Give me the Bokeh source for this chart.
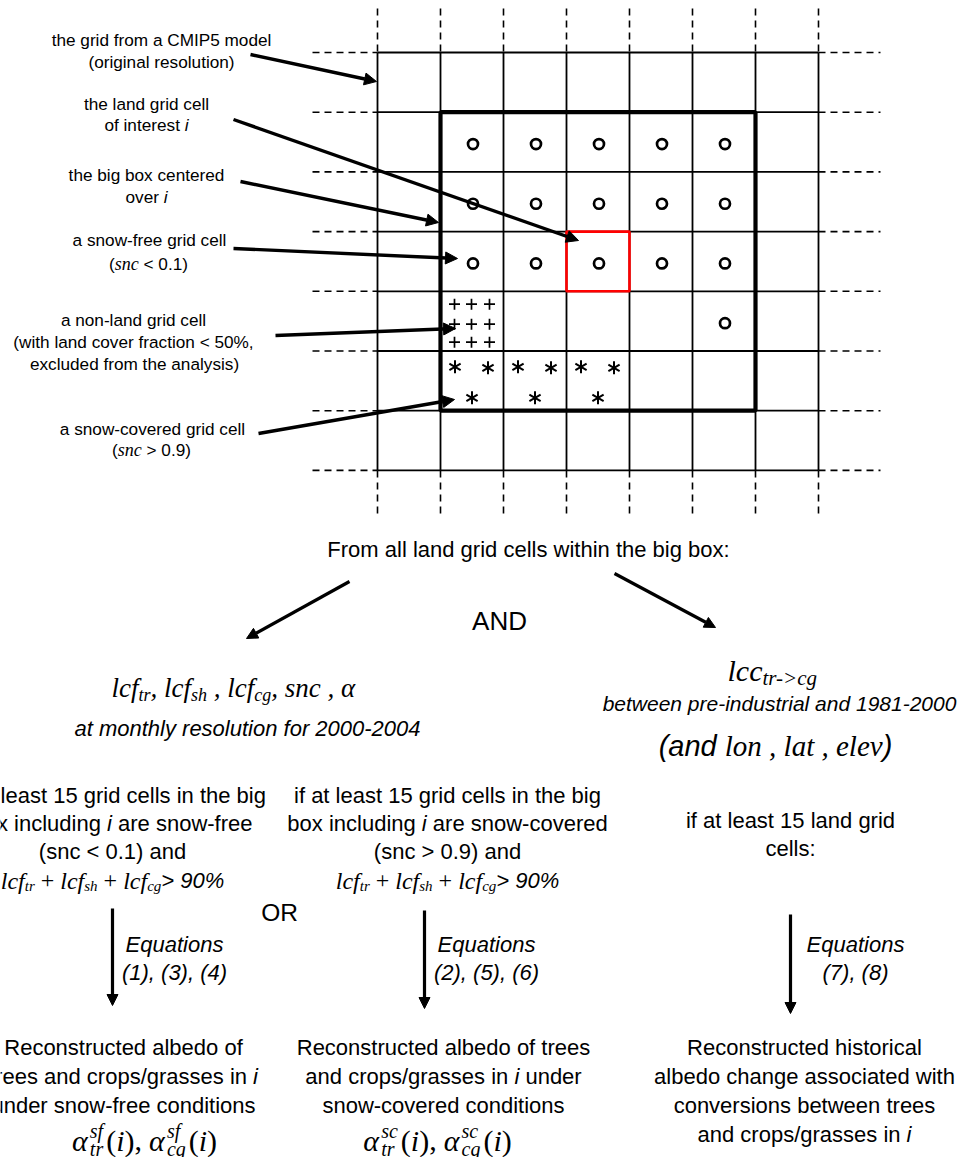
from bokeh.plotting import figure
from bokeh.models import ColumnDataSource, Arrow, NormalHead, Range1d
from bokeh.core.properties import value
from bokeh.embed import file_html
from bokeh.resources import INLINE
import math

# ---------------- data: the grid and its cell classes ----------------
N_COLS = 7
N_ROWS = 7
BIG_BOX = (1, 1, 6, 6)          # first col, first row, last edge col, last edge row
CELL_I = (3, 3)                  # col, row of the land grid cell of interest
SNOW_FREE_COLS = [1, 2, 3, 4, 5, 1, 2, 3, 4, 5, 1, 2, 3, 4, 5, 5]
SNOW_FREE_ROWS = [1, 1, 1, 1, 1, 2, 2, 2, 2, 2, 3, 3, 3, 3, 3, 4]
SNOW_COVERED_COLS = [1, 2, 3]
SNOW_COVERED_ROWS = [5, 5, 5]
NON_LAND_COLS = [1]
NON_LAND_ROWS = [4]

# ---------------- texts ----------------
LBL_GRID = ["the grid from a CMIP5 model", "(original resolution)"]
LBL_CELL = ["the land grid cell", "of interest "]
LBL_BOX = ["the big box centered", "over "]
LBL_SF = ["a snow-free grid cell", " < 0.1)"]
LBL_NL = ["a non-land grid cell", "(with land cover fraction < 50%,", "excluded from the analysis)"]
LBL_SC = ["a snow-covered grid cell", " > 0.9)"]
TXT_FROM = "From all land grid cells within the big box:"
TXT_AND = "AND"
TXT_OR = "OR"
TXT_MONTHLY = "at monthly resolution for 2000-2004"
TXT_BETWEEN = "between pre-industrial and 1981-2000"
COND_SF = ["if at least 15 grid cells in the big", "box including ", " are snow-free", "(snc < 0.1) and"]
COND_SC = ["if at least 15 grid cells in the big", "box including ", " are snow-covered", "(snc > 0.9) and"]
COND_LCC = ["if at least 15 land grid", "cells:"]
EQ_SF = ["Equations", "(1), (3), (4)"]
EQ_SC = ["Equations", "(2), (5), (6)"]
EQ_LCC = ["Equations", "(7), (8)"]
RES_SF = ["Reconstructed albedo of", "trees and crops/grasses in ", "under snow-free conditions"]
RES_SC = ["Reconstructed albedo of trees", "and crops/grasses in ", " under", "snow-covered conditions"]
RES_LCC = ["Reconstructed historical", "albedo change associated with",
           "conversions between trees", "and crops/grasses in "]

# ---------------- layout ----------------
X0, CW = 377, 63.0
Y0, CH = 52, 59.7


def gx(i):
    return X0 + i * CW


def gy(j):
    return Y0 + j * CH


def cx(i):
    return X0 + (i + 0.5) * CW


def cy(j):
    return Y0 + (j + 0.5) * CH


p = figure(width=965, height=1157, x_range=Range1d(0, 965), y_range=Range1d(1157, 0),
           output_backend="svg", toolbar_location=None, min_border=0,
           x_axis_type=None, y_axis_type=None)
p.grid.visible = False
p.outline_line_color = None
p.background_fill_color = "white"
p.border_fill_color = "white"

# solid grid
sx0, sy0, sx1, sy1 = [], [], [], []
for i in range(N_COLS + 1):
    sx0.append(gx(i)); sy0.append(gy(0)); sx1.append(gx(i)); sy1.append(gy(N_ROWS))
for j in range(N_ROWS + 1):
    sx0.append(gx(0)); sy0.append(gy(j)); sx1.append(gx(N_COLS)); sy1.append(gy(j))
p.segment(sx0, sy0, sx1, sy1, line_color="black", line_width=1.8)

# dashed continuation
dx0, dy0, dx1, dy1 = [], [], [], []
for i in range(N_COLS + 1):
    dx0 += [gx(i), gx(i)]; dy0 += [8, gy(N_ROWS)]
    dx1 += [gx(i), gx(i)]; dy1 += [gy(0), 515]
for j in range(N_ROWS + 1):
    dx0 += [312, gx(N_COLS)]; dy0 += [gy(j), gy(j)]
    dx1 += [gx(0), 880]; dy1 += [gy(j), gy(j)]
p.segment(dx0, dy0, dx1, dy1, line_color="black", line_width=1.6, line_dash="7 5")

# big box and the cell of interest
c0, r0, c1, r1 = BIG_BOX
p.quad(left=[gx(c0)], right=[gx(c1)], top=[gy(r0)], bottom=[gy(r1)],
       fill_color=None, line_color="black", line_width=4.2)
ci, ri = CELL_I
p.quad(left=[gx(ci)], right=[gx(ci + 1)], top=[gy(ri)], bottom=[gy(ri + 1)],
       fill_color=None, line_color="#ff0000", line_width=2.6)

# snow-free circles
p.scatter([cx(c) + 1 for c in SNOW_FREE_COLS], [cy(r) + 2 for r in SNOW_FREE_ROWS],
          marker="circle", size=10, line_width=2.7, line_color="black", fill_color="white")

# non-land pluses
plx, ply = [], []
for c, r in zip(NON_LAND_COLS, NON_LAND_ROWS):
    for oy in (-17, 3, 21):
        for ox in (-17.5, -0.5, 17.5):
            plx.append(cx(c) + ox); ply.append(cy(r) + oy)
p.scatter(plx, ply, marker="cross", size=11, line_width=1.7, line_color="black")

# snow-covered asterisks (6 arms)
stx, sty = [], []
for c, r in zip(SNOW_COVERED_COLS, SNOW_COVERED_ROWS):
    for ox, oy in ((-17, -14), (16, -13), (0, 17)):
        stx.append(cx(c) + ox); sty.append(cy(r) + oy)
for ang in (90, 30, -30):
    p.scatter(stx, sty, marker="dash", size=13, line_width=2.0, line_color="black",
              angle=math.radians(ang))

# arrows
arr_top = ColumnDataSource(dict(
    x0=[250, 233, 240, 233, 275, 258], y0=[54, 119, 181, 248, 335, 433],
    x1=[376, 578, 438, 457, 455, 454], y1=[81, 240, 222, 258, 328, 399]))
p.add_layout(Arrow(end=NormalHead(size=12, fill_color="black", line_color="black", line_width=1),
                   source=arr_top, x_start="x0", y_start="y0", x_end="x1", y_end="y1",
                   line_width=3.4, line_color="black"))
arr_low = ColumnDataSource(dict(
    x0=[349, 614, 112, 424, 790], y0=[581, 573, 908, 910, 914],
    x1=[246, 715, 112, 424, 790], y1=[638, 627, 1005, 1008, 1013]))
p.add_layout(Arrow(end=NormalHead(size=11, fill_color="black", line_color="black", line_width=1),
                   source=arr_low, x_start="x0", y_start="y0", x_end="x1", y_end="y1",
                   line_width=3.2, line_color="black"))

# ---------------- text machinery ----------------
_LC = "abcdefghijklmnopqrstuvwxyz"
_UC = "ABCDEFGHIJKLMNOPQRSTUVWXYZ"
ARIAL = dict(zip(_LC, [.556, .556, .5, .556, .556, .278, .556, .556, .222, .222, .5, .222, .833,
                       .556, .556, .556, .556, .333, .5, .278, .556, .5, .722, .5, .5, .5]))
ARIAL.update(zip(_UC, [.667, .667, .722, .722, .667, .611, .778, .722, .278, .5, .667, .556, .833,
                       .722, .778, .667, .778, .722, .667, .611, .722, .667, .944, .667, .667, .611]))
ARIAL.update(zip(" ()+,-./:<>%=", [.278, .333, .333, .584, .278, .333, .278, .278, .278, .584, .584, .889, .584]))
ARIAL.update({d: .556 for d in "0123456789"})
TIMESI = dict(zip(_LC, [.5, .5, .444, .5, .444, .278, .5, .5, .278, .278, .444, .278, .722,
                        .5, .5, .5, .5, .389, .389, .278, .5, .444, .667, .444, .444, .389]))
TIMESI.update(zip(" ()+,-.<>%", [.25, .333, .333, .675, .25, .333, .25, .675, .675, .833]))
TIMESI.update({d: .5 for d in "0123456789"})
TIMESI["α"] = .53
TIMESR = dict(TIMESI)
TIMESR.update({"+": .564, "(": .333, ")": .333, ",": .25, " ": .25})

TABLES = {"sans": ARIAL, "sansi": ARIAL, "serif": TIMESR, "serifi": TIMESI}
FONTS = {"sans": ("Liberation Sans", "normal"), "sansi": ("Liberation Sans", "italic"),
         "serif": ("Liberation Serif", "normal"), "serifi": ("Liberation Serif", "italic")}
groups = {}


def put(x, y, s, fam, size, align="left"):
    g = groups.setdefault((fam, size, align), {"x": [], "y": [], "text": []})
    g["x"].append(x); g["y"].append(y); g["text"].append(s)


def tw(s, fam, size):
    t = TABLES[fam]
    return sum(t.get(ch, 0.55) for ch in s) * size


def run_w(r):
    if r[0] == "#gap":
        return r[1]
    if r[0] == "#stack":
        _, sup, sub, fam, size, _a, _b = r
        return max(tw(sup, fam, size), tw(sub, fam, size))
    return tw(r[0], r[1], r[2])


def put_run(x, y, t, fam, size):
    # SVG drops leading/trailing blanks: shift by the leading blank width instead
    lead = len(t) - len(t.lstrip(" "))
    if t.strip():
        put(x + tw(" " * lead, fam, size), y, t.strip(), fam, size)


def line(runs, x_c, base):
    if len(runs) == 1:
        t, fam, size, dy = runs[0]
        put(x_c, base + dy, t.strip(), fam, size, "center")
        return
    total = sum(run_w(r) for r in runs)
    x = x_c - total / 2
    for r in runs:
        if r[0] == "#gap":
            pass
        elif r[0] == "#stack":
            _, sup, sub, fam, size, dsup, dsub = r
            put(x, base + dsup, sup, fam, size)
            put(x, base + dsub, sub, fam, size)
        else:
            put_run(x, base + r[3], r[0], r[1], r[2])
        x += run_w(r)


S1 = 17.2   # top-left labels
S2 = 22     # lower texts

# top-left labels
line([(LBL_GRID[0], "sans", S1, 0)], 161, 39)
line([(LBL_GRID[1], "sans", S1, 0)], 161, 61)
line([(LBL_CELL[0], "sans", S1, 0)], 146, 103)
line([(LBL_CELL[1], "sans", S1, 0), ("i", "sansi", S1, 0)], 146, 124)
line([(LBL_BOX[0], "sans", S1, 0)], 146, 174)
line([(LBL_BOX[1], "sans", S1, 0), ("i", "sansi", S1, 0)], 146, 196)
line([(LBL_SF[0], "sans", S1, 0)], 149, 239)
line([("(", "sans", S1, 0), ("snc", "serifi", 18, 0), (LBL_SF[1], "sans", S1, 0)], 148, 263)
line([(LBL_NL[0], "sans", S1, 0)], 133, 319)
line([(LBL_NL[1], "sans", S1, 0)], 133, 341)
line([(LBL_NL[2], "sans", S1, 0)], 134, 363)
line([(LBL_SC[0], "sans", S1, 0)], 152, 428)
line([("(", "sans", S1, 0), ("snc", "serifi", 18, 0), (LBL_SC[1], "sans", S1, 0)], 151, 449)

# middle
line([(TXT_FROM, "sans", S2, 0)], 528, 549)
line([(TXT_AND, "sans", 26, 0)], 499, 620)
line([(TXT_OR, "sans", 24.5, 0)], 279, 912)

M, s, d = 27, 18, 7
line([("lcf", "serifi", M, 0), ("tr", "serifi", s, d), (", ", "serifi", M, 0),
      ("lcf", "serifi", M, 0), ("sh", "serifi", s, d), (" , ", "serifi", M, 0),
      ("lcf", "serifi", M, 0), ("cg", "serifi", s, d), (", ", "serifi", M, 0),
      ("snc", "serifi", M, 0), (" , ", "serifi", M, 0), ("α", "serifi", M, 0)], 233, 687)
line([(TXT_MONTHLY, "sansi", S2, 0)], 247, 728)

line([("lcc", "serifi", 30, 0), ("tr->cg", "serifi", 21, 7)], 772, 670)
line([(TXT_BETWEEN, "sansi", 21, 0)], 779, 703)
line([("(and ", "sansi", 29, 0), ("lon , lat , elev", "serifi", 29, 0), (")", "sansi", 29, 0)], 775, 745)


def formula(x_c, base):
    M2, s2, d2 = 24, 15, 5
    line([("lcf", "serifi", M2, 0), ("tr", "serifi", s2, d2), (" + ", "serif", M2, 0),
          ("lcf", "serifi", M2, 0), ("sh", "serifi", s2, d2), (" + ", "serif", M2, 0),
          ("lcf", "serifi", M2, 0), ("cg", "serifi", s2, d2), ("> 90%", "sansi", S2, 0)], x_c, base)


# conditions
for cond, xc in ((COND_SF, 112), (COND_SC, 447)):
    line([(cond[0], "sans", S2, 0)], xc, 795)
    line([(cond[1], "sans", S2, 0), ("i", "sansi", S2, 0), (cond[2], "sans", S2, 0)], xc, 823)
    line([(cond[3], "sans", S2, 0)], xc, 851)
    formula(xc, 880)
line([(COND_LCC[0], "sans", S2, 0)], 790, 820)
line([(COND_LCC[1], "sans", S2, 0)], 790, 848)

# equations
for eq, xc in ((EQ_SF, 174), (EQ_SC, 486), (EQ_LCC, 855)):
    line([(eq[0], "sansi", S2, 0)], xc, 944)
    line([(eq[1], "sansi", S2, 0)], xc, 972)

# results
line([(RES_SF[0], "sans", S2, 0)], 123, 1047)
line([(RES_SF[1], "sans", S2, 0), ("i", "sansi", S2, 0)], 123, 1076)
line([(RES_SF[2], "sans", S2, 0)], 123, 1105)
line([(RES_SC[0], "sans", S2, 0)], 443, 1047)
line([(RES_SC[1], "sans", S2, 0), ("i", "sansi", S2, 0), (RES_SC[2], "sans", S2, 0)], 443, 1076)
line([(RES_SC[3], "sans", S2, 0)], 443, 1105)
line([(RES_LCC[0], "sans", S2, 0)], 804, 1047)
line([(RES_LCC[1], "sans", S2, 0)], 804, 1076)
line([(RES_LCC[2], "sans", S2, 0)], 804, 1105)
line([(RES_LCC[3], "sans", S2, 0), ("i", "sansi", S2, 0)], 804, 1134)


def alpha(x_c, base, sup):
    A, a, up, dn = 30, 20, -10, 8
    runs = []
    for k, sub in enumerate(("tr", "cg")):
        if k:
            runs += [(",", "serif", A, 0), ("#gap", 7)]
        runs += [("α", "serifi", A, 0), ("#gap", 2), ("#stack", sup, sub, "serifi", a, up, dn),
                 ("#gap", 3), ("(", "serif", A, 0), ("i", "serifi", A, 0), (")", "serif", A, 0)]
    line(runs, x_c, base)


alpha(144, 1140, "sf")
alpha(437, 1140, "sc")

for (fam, size, align), g in groups.items():
    font, style = FONTS[fam]
    p.text(x="x", y="y", text="text", source=ColumnDataSource(g),
           text_font=value(font), text_font_style=style, text_font_size=value(f"{size}px"),
           text_align=align, text_baseline="alphabetic", text_color="black")

open("out.html", "w").write(file_html(p, INLINE))
